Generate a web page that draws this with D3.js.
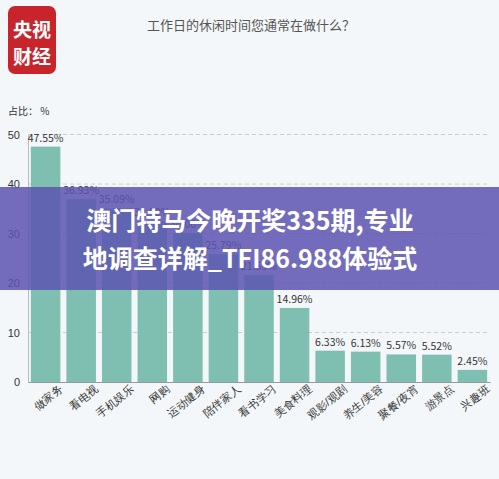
<!DOCTYPE html>
<html lang="zh">
<head>
<meta charset="UTF-8">
<style>
  body { margin: 0; background: #f3f7f9; }
  svg { display: block; font-family: "Noto Sans CJK SC", "Noto Sans", sans-serif; }
</style>
</head>
<body>
<svg id="chart" width="499" height="479"></svg>
<script src="https://cdn.jsdelivr.net/npm/d3@7/dist/d3.min.js"></script>
<script>
const categories = ["做家务", "看电视", "手机娱乐", "网购", "运动健身", "陪伴家人", "看书学习",
  "美食料理", "观影/观剧", "养生/美容", "聚餐/夜宵", "游景点", "兴趣班"];
const values = [47.55, 36.93, 35.09, 32.50, 30.06, 25.79, 21.59, 14.96, 6.33, 6.13, 5.57, 5.52, 2.45];
const yTicks = [0, 10, 20, 30, 40, 50];

const svg = d3.select("#chart");
svg.append("rect").attr("width", 499).attr("height", 479).attr("fill", "#f3f7f9");

// logo
svg.append("rect").attr("x", 8).attr("y", 6).attr("width", 48).attr("height", 68)
  .attr("rx", 7).attr("fill", "#c8242b");
svg.append("text").attr("x", 32).attr("y", 37).attr("text-anchor", "middle")
  .attr("fill", "#fff").attr("font-size", 19).attr("font-weight", "bold").text("央视");
svg.append("text").attr("x", 32).attr("y", 64).attr("text-anchor", "middle")
  .attr("fill", "#fff").attr("font-size", 19).attr("font-weight", "bold").text("财经");

svg.append("text").attr("x", 147).attr("y", 30).attr("fill", "#555").attr("font-size", 13)
  .text("工作日的休闲时间您通常在做什么？");
svg.append("text").attr("x", 8).attr("y", 115).attr("fill", "#333").attr("font-size", 10)
  .text("占比： %");

const x = d3.scaleBand().domain(categories).range([28, 490]).paddingInner(0.17).paddingOuter(0.08);
const y = d3.scaleLinear().domain([0, 50]).range([382, 134.5]);

// grid
svg.append("g").selectAll("line").data(yTicks.slice(1)).join("line")
  .attr("x1", 28).attr("x2", 490).attr("y1", d => y(d)).attr("y2", d => y(d))
  .attr("stroke", "#ccc").attr("stroke-dasharray", "4,3");

const yAxis = svg.append("g").attr("transform", "translate(28,0)")
  .call(d3.axisLeft(y).tickValues(yTicks).tickSize(0).tickPadding(8));
yAxis.select(".domain").attr("stroke", "#bbb");
yAxis.selectAll("text").attr("font-size", 11).attr("fill", "#333");

svg.append("g").selectAll("rect").data(values).join("rect")
  .attr("x", (d, i) => x(categories[i])).attr("width", x.bandwidth())
  .attr("y", d => y(d)).attr("height", d => y(0) - y(d)).attr("fill", "#7fbfb1");

svg.append("g").selectAll("text").data(values).join("text")
  .attr("x", (d, i) => x(categories[i]) + x.bandwidth() / 2).attr("y", d => y(d) - 5)
  .attr("text-anchor", "middle").attr("font-size", 10.5).attr("fill", "#333")
  .text(d => d.toFixed(2) + "%");

const xAxis = svg.append("g").attr("transform", "translate(0,382)")
  .call(d3.axisBottom(x).tickSize(0).tickPadding(8));
xAxis.select(".domain").attr("stroke", "#999");
xAxis.selectAll("text").attr("font-size", 11).attr("fill", "#333")
  .attr("text-anchor", "end").attr("dx", "0.8em").attr("dy", "0.9em")
  .attr("transform", "rotate(-38)");

// overlay banner
svg.append("rect").attr("x", 0).attr("y", 187).attr("width", 499).attr("height", 103)
  .attr("fill", "rgba(92,84,178,0.85)");
svg.append("text").attr("x", 250).attr("y", 230).attr("text-anchor", "middle")
  .attr("fill", "#fff").attr("font-size", 25).attr("font-weight", "bold")
  .text("澳门特马今晚开奖335期,专业");
svg.append("text").attr("x", 250).attr("y", 268).attr("text-anchor", "middle")
  .attr("fill", "#fff").attr("font-size", 25).attr("font-weight", "bold")
  .text("地调查详解_TFI86.988体验式");
</script>
</body>
</html>
